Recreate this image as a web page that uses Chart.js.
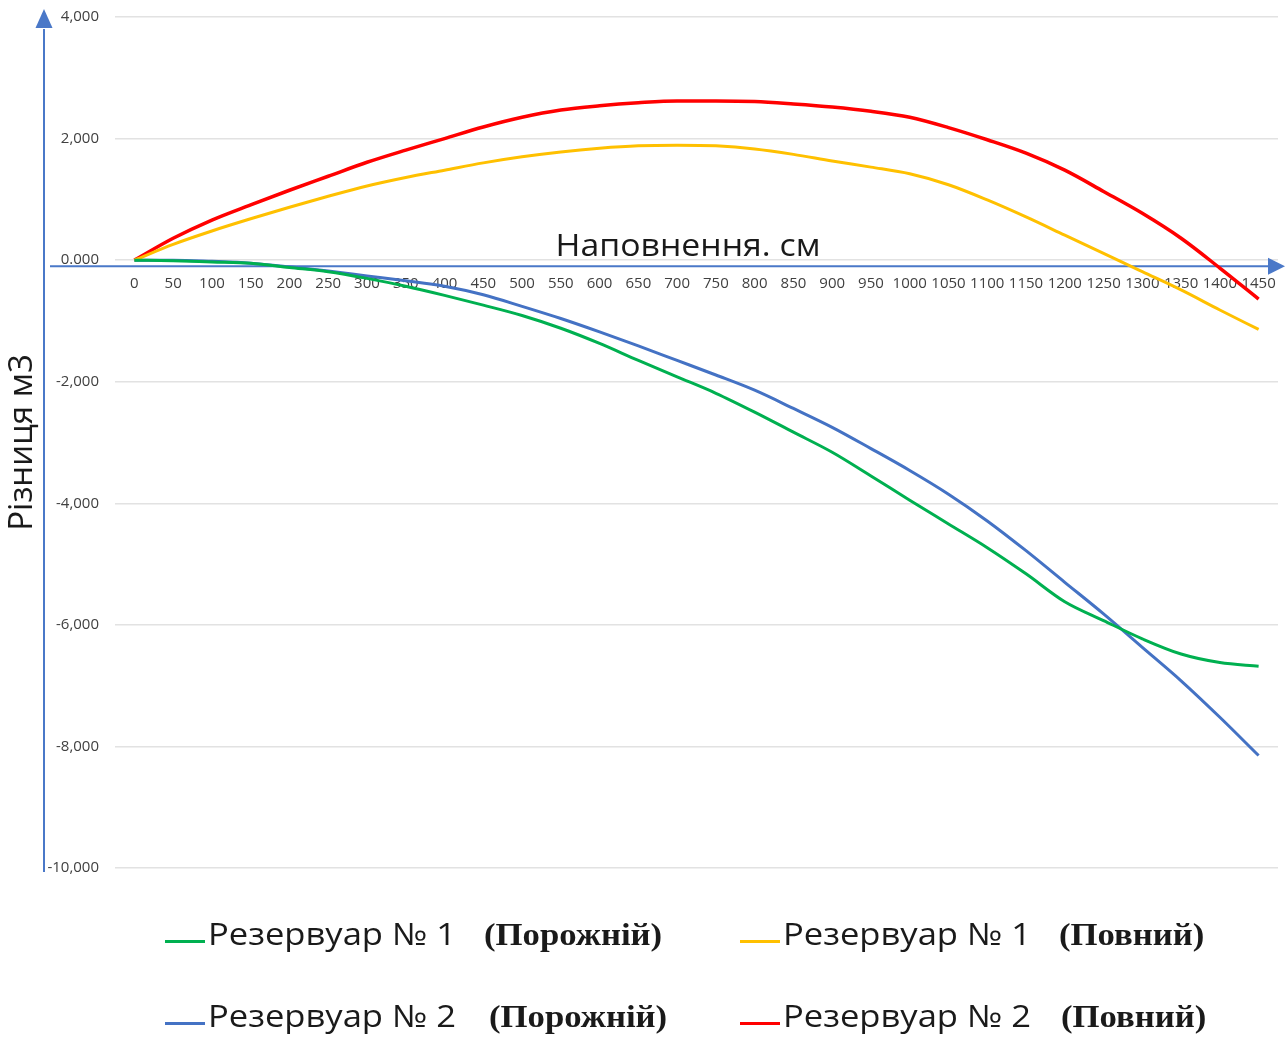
<!DOCTYPE html>
<html><head><meta charset="utf-8">
<script src="https://cdn.jsdelivr.net/npm/chart.js"></script>
<style>
html,body{margin:0;padding:0;background:#fff;}
#wrap{position:relative;width:1286px;height:1037px;overflow:hidden;background:#fff}
#c{position:absolute;left:0;top:0}
.xt{position:absolute;font-family:"Open Sans";font-size:31px;line-height:30px;color:#1a1a1a;white-space:nowrap;transform:translateX(-50%) scaleX(1.09)}
.lg{position:absolute;white-space:nowrap;line-height:30px;height:30px}
.lg .ln{display:inline-block;width:40px;height:3px;vertical-align:middle;margin-right:3px}
.lg .a{display:inline-block;font-family:"Open Sans";font-size:31px;color:#1a1a1a;transform:scaleX(1.115);transform-origin:left center}
.lg .b{display:inline-block;font-family:"Liberation Serif";font-weight:bold;font-size:31px;color:#1a1a1a;transform:scaleX(1.12);transform-origin:left center}
</style></head>
<body><div id="wrap"><canvas id="c" width="1286" height="1037"></canvas></div>
<script>
// ---- data ----
const xLabels = ["0","50","100","150","200","250","300","350","400","450","500","550","600","650","700","750","800","850","900","950","1000","1050","1100","1150","1200","1250","1300","1350","1400","1450"];
const tank1Empty = [0, -0.01, -0.03, -0.05, -0.12, -0.19, -0.30, -0.43, -0.58, -0.74, -0.91, -1.12, -1.37, -1.65, -1.92, -2.19, -2.50, -2.83, -3.16, -3.55, -3.95, -4.34, -4.73, -5.16, -5.62, -5.93, -6.23, -6.48, -6.62, -6.68];
const tank1Full = [0, 0.26, 0.48, 0.68, 0.87, 1.05, 1.22, 1.36, 1.48, 1.60, 1.70, 1.78, 1.84, 1.88, 1.89, 1.88, 1.83, 1.74, 1.63, 1.53, 1.42, 1.24, 0.99, 0.71, 0.41, 0.11, -0.19, -0.49, -0.82, -1.14];
const tank2Empty = [0, 0.0, -0.02, -0.05, -0.11, -0.18, -0.26, -0.34, -0.43, -0.57, -0.76, -0.96, -1.18, -1.41, -1.65, -1.89, -2.14, -2.44, -2.75, -3.10, -3.46, -3.85, -4.29, -4.78, -5.30, -5.82, -6.37, -6.92, -7.52, -8.15];
const tank2Full = [0, 0.36, 0.66, 0.91, 1.15, 1.38, 1.61, 1.81, 2.00, 2.19, 2.35, 2.47, 2.54, 2.59, 2.62, 2.62, 2.61, 2.57, 2.52, 2.45, 2.35, 2.18, 1.98, 1.76, 1.48, 1.13, 0.77, 0.36, -0.13, -0.64];
const yTickValues = [-10, -8, -6, -4, -2, 0, 2, 4];
const yTickLabels = ["-10,000", "-8,000", "-6,000", "-4,000", "-2,000", "0.000", "2,000", "4,000"];
const seriesNames = ["Резервуар № 1", "Резервуар № 1", "Резервуар № 2", "Резервуар № 2"];
const seriesStates = ["(Порожній)", "(Повний)", "(Порожній)", "(Повний)"];
const xTitle = "Наповнення. см";
const yTitle = "Різниця м3";

// ---- styles ----
const colors = ["#00b050", "#ffc000", "#4472c4", "#ff0000"];
const widths = [3, 3, 3, 3.5];
const axisColor = "#4a78c8";
const seriesData = [tank1Empty, tank1Full, tank2Empty, tank2Full];
const stateGap = [28, 28, 33, 30];

const arrowPlugin = {
  id: 'arrows',
  beforeDatasetsDraw(chart) {
    const {ctx, chartArea, scales} = chart;
    const y0 = scales.y.getPixelForValue(0) + 6;
    const xv = chartArea.left - 71;
    ctx.save();
    ctx.strokeStyle = axisColor; ctx.fillStyle = axisColor; ctx.lineWidth = 2;
    ctx.beginPath(); ctx.moveTo(xv, chartArea.bottom + 4); ctx.lineTo(xv, chartArea.top + 12); ctx.stroke();
    ctx.beginPath(); ctx.moveTo(xv, chartArea.top - 8); ctx.lineTo(xv - 8.5, chartArea.top + 11); ctx.lineTo(xv + 8.5, chartArea.top + 11); ctx.closePath(); ctx.fill();
    ctx.beginPath(); ctx.moveTo(xv + 6, y0); ctx.lineTo(chartArea.right - 8, y0); ctx.stroke();
    ctx.beginPath(); ctx.moveTo(chartArea.right + 7, y0); ctx.lineTo(chartArea.right - 10, y0 - 8.5); ctx.lineTo(chartArea.right - 10, y0 + 8.5); ctx.closePath(); ctx.fill();
    ctx.restore();
  }
};

const noPad = s => { s.paddingTop = 0; s.paddingBottom = 0; s.paddingLeft = 0; s.paddingRight = 0; };

const chart = new Chart(document.getElementById('c'), {
  type: 'line',
  data: {
    labels: xLabels,
    datasets: seriesData.map((d, i) => ({
      label: seriesNames[i] + ' ' + seriesStates[i],
      data: d,
      borderColor: colors[i],
      backgroundColor: colors[i],
      borderWidth: widths[i],
      pointRadius: 0,
      cubicInterpolationMode: 'monotone',
      fill: false
    }))
  },
  options: {
    responsive: false,
    animation: false,
    devicePixelRatio: 1,
    layout: { padding: { left: 0, top: 17, right: 8, bottom: 169 } },
    plugins: { legend: { display: false }, tooltip: { enabled: false } },
    scales: {
      x: {
        position: { y: 0 },
        offset: true,
        afterFit: noPad,
        grid: { display: false },
        border: { display: false },
        ticks: {
          autoSkip: false, maxRotation: 0, minRotation: 0, padding: 7,
          color: '#404040', font: { family: 'Open Sans', size: 15 }
        }
      },
      y: {
        min: -10, max: 4,
        afterFit: s => { s.width = 115; noPad(s); },
        afterBuildTicks: s => { s.ticks = yTickValues.map(v => ({ value: v })); },
        grid: { color: '#e2e2e2', lineWidth: 1.5, drawTicks: false },
        border: { display: false },
        ticks: {
          padding: 16, color: '#404040', font: { family: 'Open Sans', size: 15 },
          callback: (v) => { const k = yTickValues.indexOf(v); return k >= 0 ? yTickLabels[k] : ''; }
        },
        title: {
          display: true, text: yTitle, color: '#1a1a1a',
          font: { family: 'Open Sans', size: 33 }, padding: { top: 3, bottom: 0 }
        }
      }
    }
  },
  plugins: [arrowPlugin]
});

// ---- overlay texts ----
const wrap = document.getElementById('wrap');
const area = chart.chartArea;
const zeroY = chart.scales.y.getPixelForValue(0);
const xt = document.createElement('div');
xt.className = 'xt';
xt.textContent = xTitle;
xt.style.left = ((area.left + area.right) / 2 - 9) + 'px';
xt.style.top = (zeroY - 31) + 'px';
wrap.appendChild(xt);

const legendPos = [[165, 918], [740, 918], [165, 1000], [740, 1000]];
seriesData.forEach((d, i) => {
  const el = document.createElement('div');
  el.className = 'lg';
  el.style.left = legendPos[i][0] + 'px';
  el.style.top = legendPos[i][1] + 'px';
  const ln = document.createElement('span'); ln.className = 'ln'; ln.style.background = colors[i];
  const a = document.createElement('span'); a.className = 'a'; a.textContent = seriesNames[i];
  const b = document.createElement('span'); b.className = 'b'; b.textContent = seriesStates[i];
  el.appendChild(ln); el.appendChild(a); el.appendChild(b);
  wrap.appendChild(el);
  const aw = a.getBoundingClientRect().width;
  const aLogical = a.offsetWidth;
  b.style.marginLeft = (aw - aLogical + stateGap[i]) + 'px';
});
</script>
</body></html>
